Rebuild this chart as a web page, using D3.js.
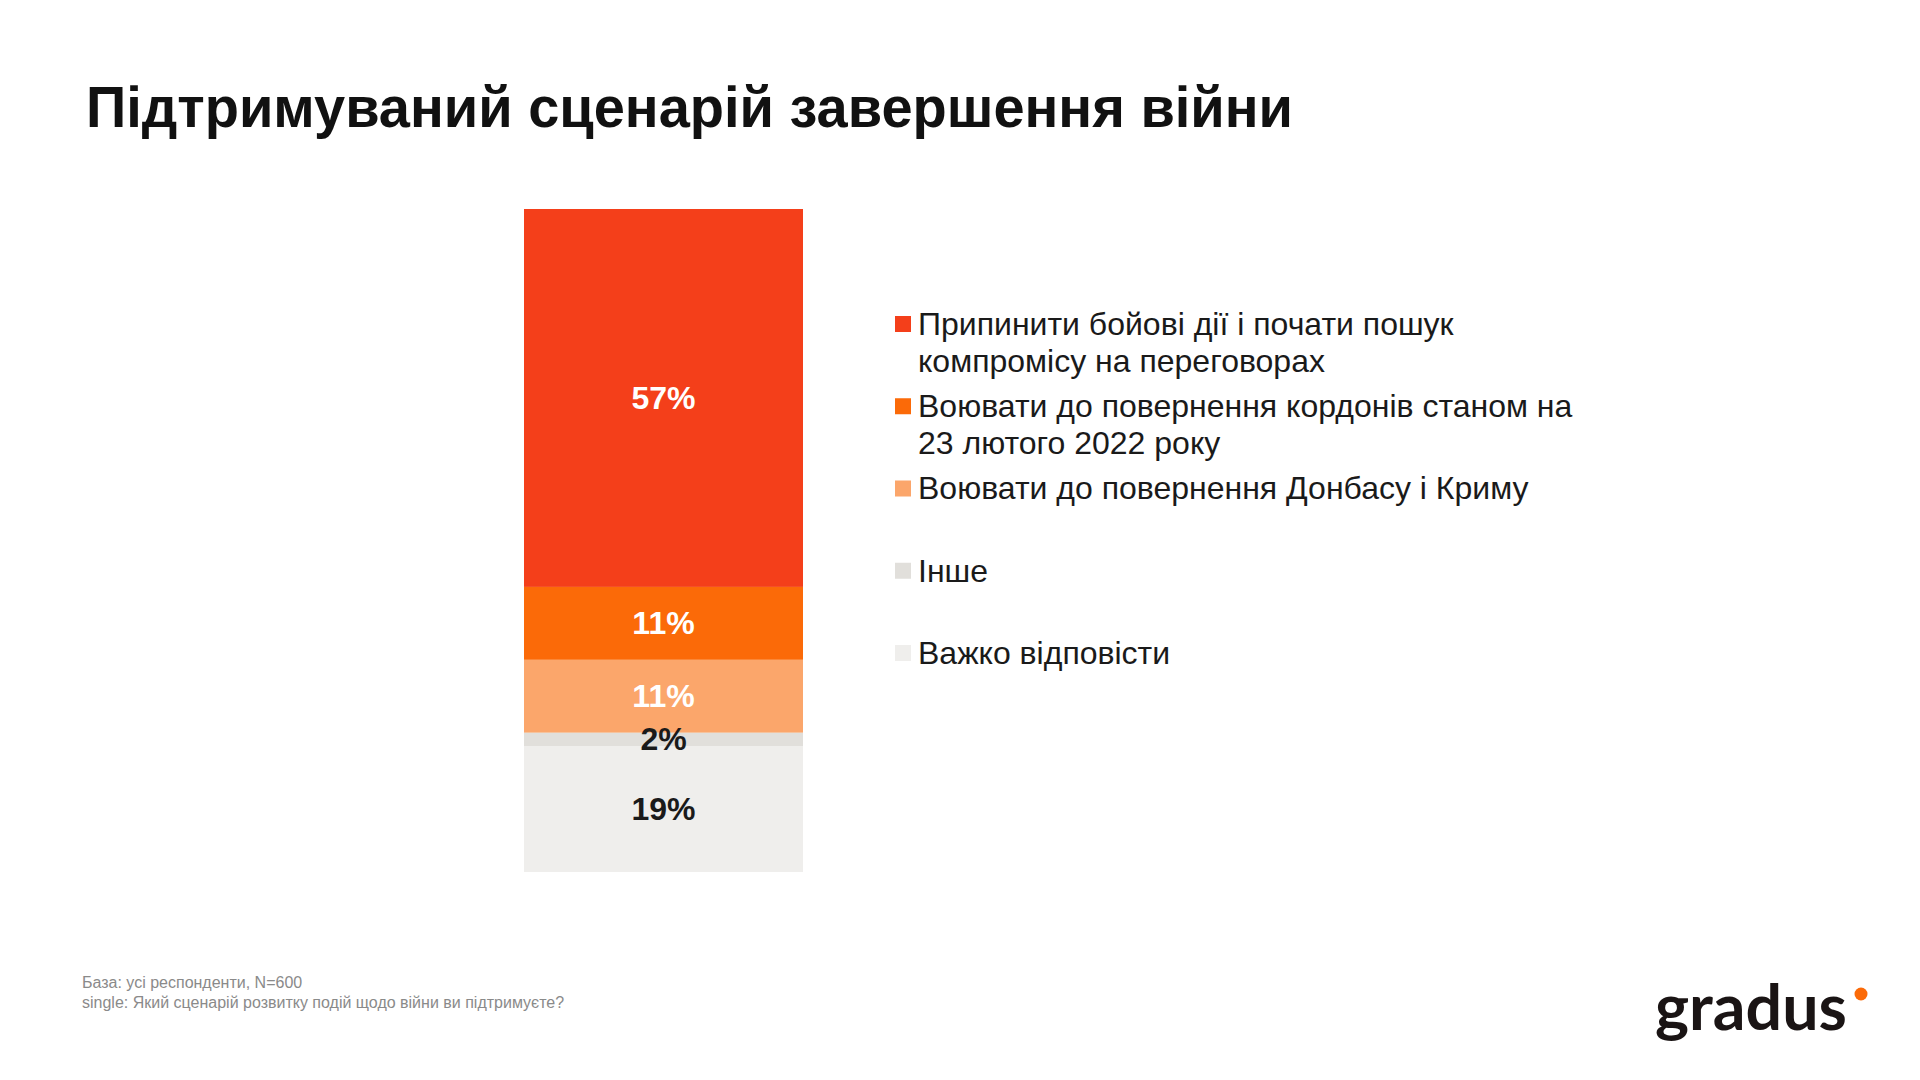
<!DOCTYPE html>
<html>
<head>
<meta charset="utf-8">
<script src="https://cdn.jsdelivr.net/npm/d3@7"></script>
<style>
  html, body { margin: 0; padding: 0; background: #fff; }
  svg { display: block; font-family: "Liberation Sans", Arial, sans-serif; }
</style>
</head>
<body>
<svg id="chart" width="1920" height="1080"></svg>
<script>
// Data
const categories = [
  "Припинити бойові дії і почати пошук\nкомпромісу на переговорах",
  "Воювати до повернення кордонів станом на\n23 лютого 2022 року",
  "Воювати до повернення Донбасу і Криму",
  "Інше",
  "Важко відповісти"
];
const values = [57, 11, 11, 2, 19];
const colors = ["#f43f1a", "#fb6a08", "#fba66b", "#e1dfdb", "#efeeec"];
const labelColors = ["#ffffff", "#ffffff", "#ffffff", "#1a1a1a", "#1a1a1a"];
const title = "Підтримуваний сценарій завершення війни";
const notes = ["База: усі респонденти, N=600", "single: Який сценарій розвитку подій щодо війни ви підтримуєте?"];

const svg = d3.select("#chart");

// Title
const t = svg.append("text")
  .attr("x", 86)
  .attr("y", 127)
  .attr("font-size", 57)
  .attr("font-weight", "bold")
  .attr("fill", "#111")
  .text(title);
const tw = t.node().getComputedTextLength();
if (tw > 1207) t.attr("textLength", 1207).attr("lengthAdjust", "spacingAndGlyphs");

// Stacked bar (single column)
const row = {};
categories.forEach((c, i) => row[c] = values[i]);
const series = d3.stack().keys(categories)([row]);

const total = d3.sum(values);
// first category sits on top, so the stack runs from the top down
const y = d3.scaleLinear().domain([0, total]).range([209, 872]);
const x = d3.scaleBand().domain(["all"]).range([524, 803]).padding(0);

const bars = svg.append("g");
bars.selectAll("rect")
  .data(series)
  .join("rect")
  .attr("x", x("all"))
  .attr("width", x.bandwidth())
  .attr("y", d => y(d[0][0]))
  .attr("height", d => y(d[0][1]) - y(d[0][0]))
  .attr("fill", (d, i) => colors[i]);

// labels in their own group so they stay above every segment
svg.append("g")
  .selectAll("text")
  .data(series)
  .join("text")
  .attr("x", x("all") + x.bandwidth() / 2)
  .attr("y", d => (y(d[0][0]) + y(d[0][1])) / 2)
  .attr("dy", "0.33em")
  .attr("text-anchor", "middle")
  .attr("font-size", 32)
  .attr("font-weight", "bold")
  .attr("fill", (d, i) => labelColors[i])
  .text((d, i) => values[i] + "%");

// Legend
const ly = d3.scalePoint().domain(categories).range([324, 653]);
const item = svg.append("g")
  .selectAll("g")
  .data(categories)
  .join("g")
  .attr("transform", d => `translate(895,${ly(d)})`);

item.append("rect")
  .attr("x", 0)
  .attr("y", -8)
  .attr("width", 16)
  .attr("height", 16)
  .attr("fill", (d, i) => colors[i]);

item.append("text")
  .attr("font-size", 32)
  .attr("fill", "#1a1a1a")
  .selectAll("tspan")
  .data(d => d.split("\n"))
  .join("tspan")
  .attr("x", 23)
  .attr("dy", (d, i) => i === 0 ? "0.34em" : "1.16em")
  .text(d => d);

// Footnotes
svg.append("g")
  .selectAll("text")
  .data(notes)
  .join("text")
  .attr("x", 82)
  .attr("y", (d, i) => 988 + i * 20)
  .attr("font-size", 16)
  .attr("fill", "#8a8a8a")
  .text(d => d);

// Logo
svg.append("text")
  .attr("x", 1655)
  .attr("y", 1030)
  .attr("font-family", "Lato, 'Noto Sans', sans-serif")
  .attr("font-weight", "bold")
  .attr("font-size", 64)
  .attr("fill", "#1a1414")
  .attr("textLength", 192)
  .attr("lengthAdjust", "spacingAndGlyphs")
  .text("gradus");
svg.append("circle")
  .attr("cx", 1861)
  .attr("cy", 994)
  .attr("r", 6.5)
  .attr("fill", "#fb6a08");
</script>
</body>
</html>
